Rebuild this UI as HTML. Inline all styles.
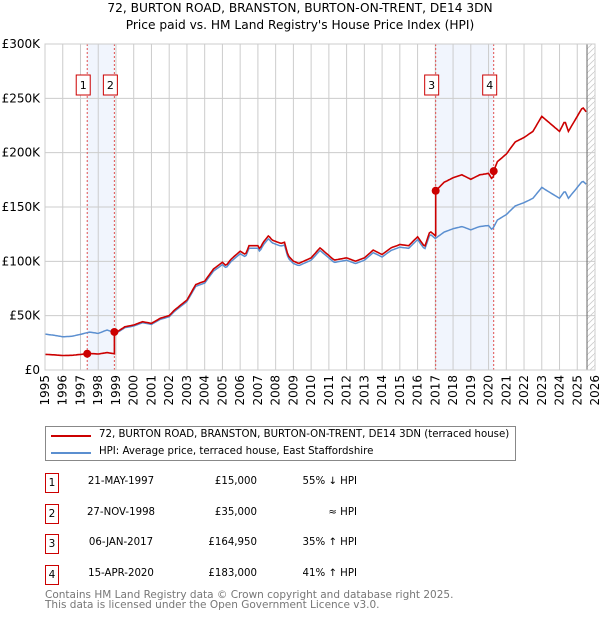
<!DOCTYPE html>
<html><head><meta charset="utf-8"><style>
body{margin:0;background:#fff;font-family:"DejaVu Sans","Liberation Sans",sans-serif;}
#wrap{position:relative;width:600px;height:620px;overflow:hidden}
.t{position:absolute;font-size:10.2px;color:#000;white-space:nowrap}
</style></head><body><div id="wrap">
<svg id="chart" width="600" height="420" style="position:absolute;left:0;top:0"></svg>
<div style="position:absolute;left:45px;top:426px;width:471px;height:35px;border:1px solid #888;box-sizing:border-box">
<div><div style="position:absolute;left:5px;top:8px;width:40px;height:2px;background:#cc0000"></div><span class="t" style="left:53px;top:2px">72, BURTON ROAD, BRANSTON, BURTON-ON-TRENT, DE14 3DN (terraced house)</span></div>
<div><div style="position:absolute;left:5px;top:25px;width:40px;height:2px;background:#5b8fd0"></div><span class="t" style="left:53px;top:19px">HPI: Average price, terraced house, East Staffordshire</span></div>
</div>
<div id="tbl"></div>
<div class="t" style="left:45px;top:590px;font-size:10.5px;color:#777;line-height:10px">Contains HM Land Registry data © Crown copyright and database right 2025.<br>This data is licensed under the Open Government Licence v3.0.</div>
</div>
<script>
const hpiYears=[1995,1995.5,1996,1996.5,1997,1997.5,1998,1998.5,1999,1999.5,2000,2000.5,2001,2001.5,2002,2002.3,2003,2003.5,2004,2004.5,2005,2005.2,2005.5,2006,2006.3,2006.5,2007,2007.1,2007.3,2007.6,2007.8,2008.3,2008.5,2008.7,2009,2009.3,2010,2010.5,2011.3,2012,2012.5,2013,2013.5,2014,2014.5,2015,2015.5,2016,2016.4,2016.7,2017,2017.5,2018,2018.5,2019,2019.5,2020,2020.2,2020.5,2021,2021.5,2022,2022.5,2023,2023.5,2024,2024.3,2024.5,2025,2025.3,2025.5];
const hpiValues=[33,32,30.6,31,32.8,34.9,33.7,36.8,33.7,38.9,40.5,43.5,42,46.6,49,54,63,77,80,91,97,94,100,107,104,112,112,109,115,121,117,114,115,103,98,96,101,110,99,101,98,101,108,104,110,113,112,120,111,125,121,127,130,132,129,132,133,129,138,143,151,154,158,168,163,158,165,158,168,174,171];
const saleYears=[1997.38,1998.91,2017.02,2020.29];
const salePrices=[15,35,164.95,183];
const saleLabels=["1","2","3","4"];
const saleDates=["21-MAY-1997","27-NOV-1998","06-JAN-2017","15-APR-2020"];
const salePriceText=["£15,000","£35,000","£164,950","£183,000"];
const saleHpiText=["55% ↓ HPI","≈ HPI","35% ↑ HPI","41% ↑ HPI"];
const yTicks=[0,50,100,150,200,250,300];
const yTickLabels=["£0","£50K","£100K","£150K","£200K","£250K","£300K"];
const xTicks=[1995,1996,1997,1998,1999,2000,2001,2002,2003,2004,2005,2006,2007,2008,2009,2010,2011,2012,2013,2014,2015,2016,2017,2018,2019,2020,2021,2022,2023,2024,2025,2026];

const L=45,R=595,T=44,B=370,X0=1995,X1=2026;
const xs=v=>L+(v-X0)/(X1-X0)*(R-L);
const ys=v=>B-v/300*(B-T);
const NS="http://www.w3.org/2000/svg";
const svg=document.getElementById('chart');
function mk(tag,attrs,parent){const e=document.createElementNS(NS,tag);for(const k in attrs)e.setAttribute(k,attrs[k]);(parent||svg).appendChild(e);return e;}
function hpiAt(y){if(y<=hpiYears[0])return hpiValues[0];for(let i=1;i<hpiYears.length;i++){if(y<=hpiYears[i]){const f=(y-hpiYears[i-1])/(hpiYears[i]-hpiYears[i-1]);return hpiValues[i-1]+f*(hpiValues[i]-hpiValues[i-1]);}}return hpiValues[hpiValues.length-1];}

for(let i=0;i<saleYears.length;i+=2){const r=mk('rect',{x:xs(saleYears[i]),y:T,width:xs(saleYears[i+1])-xs(saleYears[i]),height:B-T,fill:'#eef3fc',opacity:0.8});

}
const defs=mk('defs',{});const pat=mk('pattern',{id:'h',width:6,height:6,patternUnits:'userSpaceOnUse'},defs);
mk('path',{d:'M0,6 L6,0',stroke:'#ccc','stroke-width':0.8},pat);
const hx=xs(2025.55);
const hatch=mk('rect',{x:hx,y:T,width:R-hx,height:B-T,fill:'url(#h)'});


xTicks.forEach(t=>{const g=mk('line',{x1:xs(t),x2:xs(t),y1:T,y2:B,stroke:'#ccc','stroke-width':1});


const tx=mk('text',{x:0,y:0,transform:`translate(${xs(t)+4},${B+5}) rotate(-90)`,'text-anchor':'end','font-size':12,fill:'#000','font-family':'DejaVu Sans,sans-serif'});tx.textContent=t;

});
yTicks.forEach((t,i)=>{const g=mk('line',{x1:L,x2:R,y1:ys(t),y2:ys(t),stroke:'#ccc','stroke-width':1});


const tx=mk('text',{x:L-5,y:ys(t)+4,'text-anchor':'end','font-size':12,fill:'#000','font-family':'DejaVu Sans,sans-serif'});tx.textContent=yTickLabels[i];

});
const vl=mk('line',{x1:hx,x2:hx,y1:T,y2:B,stroke:'#666','stroke-width':1});


saleYears.forEach((s,i)=>{const l=mk('line',{x1:xs(s),x2:xs(s),y1:T,y2:B,stroke:'#e05050','stroke-width':1,'stroke-dasharray':'2,2'});


const bx=xs(s)-4;
const r=mk('rect',{x:bx-7,y:75,width:14,height:20,fill:'#fff',stroke:'#cc0000','stroke-width':1});


const tx=mk('text',{x:bx,y:89,'text-anchor':'middle','font-size':11,'font-family':'DejaVu Sans,sans-serif'});tx.textContent=saleLabels[i];

});
const samp=[];for(let y=1995;y<=2025.5;y+=1/12)samp.push(+y.toFixed(4));
const hp=samp.map(y=>xs(y).toFixed(1)+','+ys(hpiAt(y)).toFixed(1)).join(' ');
const hl=mk('polyline',{points:hp,fill:'none',stroke:'#5b8fd0','stroke-width':1.5});


function redAt(y){let k=-1;for(let i=0;i<saleYears.length;i++)if(y>=saleYears[i])k=i;if(k<0)k=0;return salePrices[k]*hpiAt(y)/hpiAt(saleYears[k]);}
const rpts=[];samp.forEach(y=>{saleYears.forEach(s=>{if(s>y-1/12&&s<=y){rpts.push([s-0.001,redAt(s-0.001)]);rpts.push([s,redAt(s)]);}});rpts.push([y,redAt(y)]);});
const rl=mk('polyline',{points:rpts.map(p=>xs(p[0]).toFixed(1)+','+ys(p[1]).toFixed(1)).join(' '),fill:'none',stroke:'#cc0000','stroke-width':1.6});


saleYears.forEach((s,i)=>{const c=mk('circle',{cx:xs(s),cy:ys(salePrices[i]),r:4,fill:'#cc0000'});

});
const ax=mk('rect',{x:L,y:T,width:R-L,height:B-T,fill:'none',stroke:'#ccc'});


[['72, BURTON ROAD, BRANSTON, BURTON-ON-TRENT, DE14 3DN',12],["Price paid vs. HM Land Registry's House Price Index (HPI)",29]].forEach((a,i)=>{const tx=mk('text',{x:300,y:a[1],'text-anchor':'middle','font-size':12.2,'font-family':'DejaVu Sans,sans-serif'});tx.textContent=a[0];

});
const tbl=document.getElementById('tbl');
saleDates.forEach((d,i)=>{const cy=483+i*30.5;const row=document.createElement('div');


row.innerHTML=`<div style="position:absolute;left:45px;top:${cy-10}px;width:12px;height:18px;border:1px solid #cc0000;font-size:10.5px;text-align:center;line-height:18px">${saleLabels[i]}</div>`+
`<span class="t" style="left:85px;width:72px;text-align:center;top:${cy-7}px">${d}</span>`+
`<span class="t" style="left:180px;width:77px;text-align:right;top:${cy-7}px">${salePriceText[i]}</span>`+
`<span class="t" style="left:280px;width:77px;text-align:right;top:${cy-7}px">${saleHpiText[i]}</span>`;
tbl.appendChild(row);});
</script></body></html>
